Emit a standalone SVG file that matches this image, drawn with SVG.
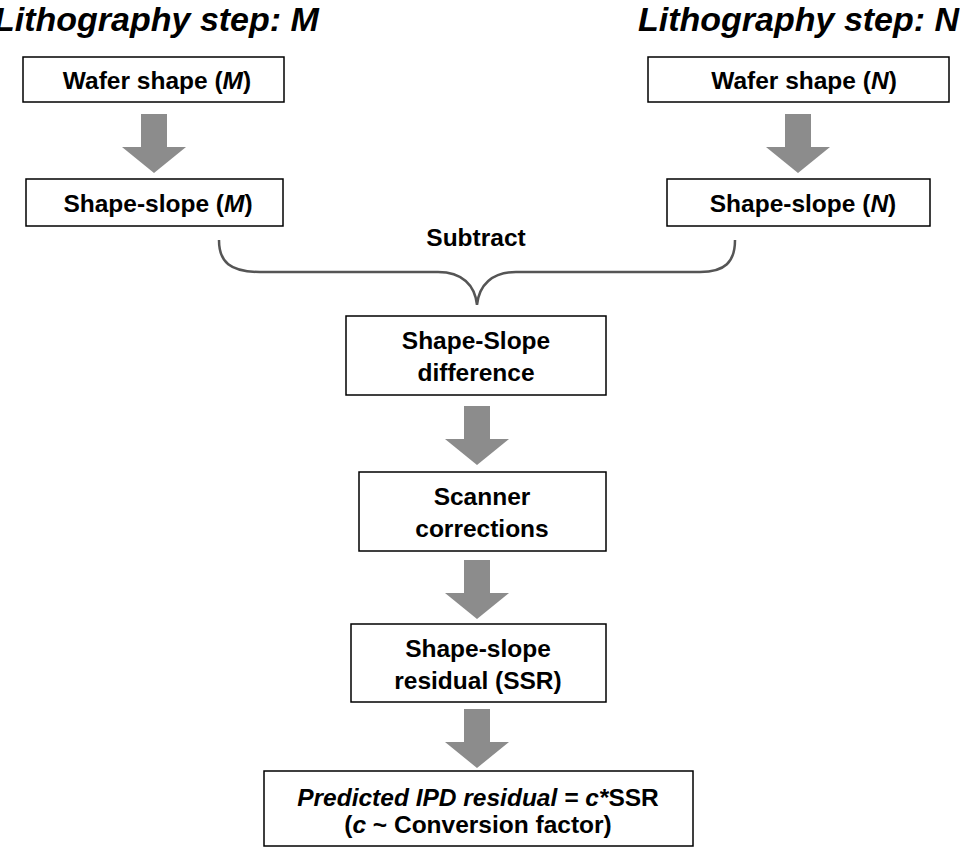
<svg xmlns="http://www.w3.org/2000/svg" width="960" height="854" viewBox="0 0 960 854">
<style>
.b{fill:#fff;stroke:#000;stroke-width:1.5}
.t{font-family:"Liberation Sans",Arial,sans-serif;font-weight:bold;font-size:24.5px;text-anchor:middle;fill:#000}
.h{font-family:"Liberation Sans",Arial,sans-serif;font-weight:bold;font-style:italic;font-size:34px;fill:#000}
.a{fill:#8c8c8c}
</style>
<defs><path id="arr" class="a" d="M-13,0 H13 V33 H32 L0,59 L-32,33 H-13 Z"/></defs>
<rect width="960" height="854" fill="#fff"/>
<text class="h" x="-6" y="31">Lithography step: M</text>
<text class="h" x="638" y="31">Lithography step: N</text>
<g id="waferM"><rect class="b" x="23" y="57" width="261" height="45"/><text class="t" x="157" y="89">Wafer shape (<tspan font-style="italic">M</tspan>)</text></g>
<g id="slopeM"><rect class="b" x="26" y="179" width="257" height="47"/><text class="t" x="158" y="212">Shape-slope (<tspan font-style="italic">M</tspan>)</text></g>
<g id="waferN"><rect class="b" x="648" y="57" width="301" height="45"/><text class="t" x="804" y="89">Wafer shape (<tspan font-style="italic">N</tspan>)</text></g>
<g id="slopeN"><rect class="b" x="667" y="179" width="263" height="47"/><text class="t" x="803" y="212">Shape-slope (<tspan font-style="italic">N</tspan>)</text></g>
<g id="diff"><rect class="b" x="346" y="316" width="260" height="79"/><text class="t" x="476" y="349">Shape-Slope</text><text class="t" x="476" y="381">difference</text></g>
<g id="scanner"><rect class="b" x="359" y="472" width="247" height="79"/><text class="t" x="482" y="505">Scanner</text><text class="t" x="482" y="537">corrections</text></g>
<g id="ssr"><rect class="b" x="351" y="624" width="255" height="78"/><text class="t" x="478" y="657">Shape-slope</text><text class="t" x="478" y="689">residual (SSR)</text></g>
<g id="pred"><rect class="b" x="264" y="771" width="429" height="75"/><text class="t" x="478" y="806" font-size="25.5"><tspan font-style="italic">Predicted IPD residual = c*</tspan>SSR</text><text class="t" x="478" y="833" font-size="19">(<tspan font-style="italic">c</tspan> ~ Conversion factor)</text></g>
<g id="connectors">
<use href="#arr" x="154" y="114"/>
<use href="#arr" x="798" y="114"/>
<use href="#arr" x="477" y="406"/>
<use href="#arr" x="477" y="560"/>
<use href="#arr" x="477" y="709"/>
<path d="M219,240 C219,262 230,272 260,272 H438 C462,272 475,285 477,305 C479,285 492,272 516,272 H700 C725,272 735,262 735,240" fill="none" stroke="#555" stroke-width="2.5"/>
<text class="t" x="476" y="246">Subtract</text>
</g>
</svg>
